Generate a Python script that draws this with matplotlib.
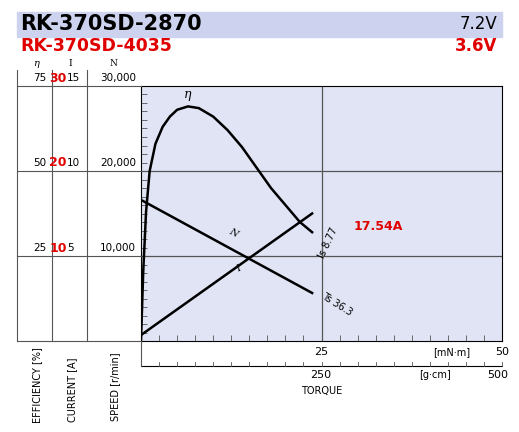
import matplotlib
matplotlib.use("Agg")
import matplotlib.pyplot as plt
import numpy as np

torque_eff = [0, 0.3, 0.7, 1.2, 2, 3, 4, 5, 6.5, 8, 10, 12, 14, 16, 18, 20, 22, 23.7]
eff = [0, 20, 38, 50, 58, 63, 66, 68, 69, 68.5, 66, 62, 57, 51, 45, 40, 35, 32]
torque_line = [0, 23.7]
speed = [16600, 5650]
current = [0.35, 7.5]
eff_ticks = [25, 50, 75]
cur_ticks = [5, 10, 15]
cur_ticks_red = ["10", "20", "30"]
speed_ticks = [10000, 20000, 30000]

W, H = 519, 432
fig = plt.figure(figsize=(W/100, H/100), dpi=100)
def fx(x): return x / W
def fy(y): return 1 - y / H

bg = "#e0e4f4"
fig.patches.append(plt.Rectangle((fx(17), fy(37)), fx(485), 25/H, color="#cdd3ee", transform=fig.transFigure, zorder=0))
fig.text(fx(20), fy(24), "RK-370SD-2870", fontsize=15, fontweight="bold", va="center")
fig.text(fx(497), fy(24), "7.2V", fontsize=12, va="center", ha="right")
fig.text(fx(20), fy(46), "RK-370SD-4035", fontsize=12.5, fontweight="bold", color="#e00000", va="center")
fig.text(fx(497), fy(46), "3.6V", fontsize=12, fontweight="bold", color="#e00000", va="center", ha="right")

ax = fig.add_axes([fx(141), fy(341), 361/W, 255/H])
ax.set_facecolor(bg)
ax.set_xlim(0, 50)
ax.set_ylim(0, 30000)
for s in ax.spines.values():
    s.set_linewidth(0.8)
ax.axvline(25, color="#555", lw=0.9)
for v in [10000, 20000]:
    ax.axhline(v, color="#555", lw=0.9)
ax.set_xticks(np.arange(0, 50.1, 2.5))
ax.set_xticklabels([])
ax.set_yticks(np.arange(0, 30001, 1000))
ax.set_yticklabels([])
ax.tick_params(direction="in", length=4, width=0.6, color="#555")

ax.plot(torque_line, speed, color="black", lw=1.8)
ax.plot(torque_line, [c / 15 * 30000 for c in current], color="black", lw=1.8)
ax.plot(torque_eff, [e / 75 * 30000 for e in eff], color="black", lw=1.8)

ax.text(6.0, 28600, "η", fontsize=9, family="DejaVu Serif", style="italic")
ax.text(12.0, 12300, "N", fontsize=7, family="DejaVu Serif", style="italic", rotation=-28)
ax.text(13.0, 8100, "I", fontsize=7, family="DejaVu Serif", style="italic", rotation=28)
ax.text(24.3, 11500, "Is 8.77", fontsize=7, rotation=65, ha="left", va="center")
ax.text(29.5, 13500, "17.54A", fontsize=9, fontweight="bold", color="#e00000", va="center")
ax.text(24.8, 4300, "Ts 36.3", fontsize=7, rotation=-32, ha="left", va="center")

ax.text(25, -1300, "25", fontsize=8, ha="center", va="center", clip_on=False)
ax.text(50, -1300, "50", fontsize=8, ha="center", va="center", clip_on=False)
ax.text(43, -1300, "[mN·m]", fontsize=7, ha="center", va="center", clip_on=False)

ax2 = fig.add_axes([fx(141), fy(366), 361/W, 0.0001])
ax2.set_xlim(0, 500)
for k in ["top", "right", "left"]:
    ax2.spines[k].set_visible(False)
ax2.spines["bottom"].set_linewidth(0.8)
ax2.set_yticks([])
ax2.set_xticks(np.arange(0, 501, 25))
ax2.set_xticklabels([])
ax2.tick_params(axis="x", top=False, bottom=False)
for t in np.arange(0, 501, 25):
    fig.add_artist(plt.Line2D([fx(141 + t / 500 * 361)] * 2, [fy(366), fy(362)], color="#555", lw=0.6))
fig.add_artist(plt.Line2D([fx(141)] * 2, [fy(341), fy(366)], color="#555", lw=0.8))
fig.text(fx(321), fy(375), "250", fontsize=8, ha="center", va="center")
fig.text(fx(498), fy(375), "500", fontsize=8, ha="center", va="center")
fig.text(fx(435), fy(375), "[g·cm]", fontsize=7, ha="center", va="center")
fig.text(fx(322), fy(391), "TORQUE", fontsize=7, ha="center", va="center")

lc = "#555"
for x in [17, 52, 87]:
    fig.add_artist(plt.Line2D([fx(x)] * 2, [fy(70), fy(341)], color=lc, lw=0.8))
for y in [86, 171, 256, 341]:
    fig.add_artist(plt.Line2D([fx(17), fx(141)], [fy(y)] * 2, color=lc, lw=0.8))
fig.text(fx(36), fy(63), "η", fontsize=7, family="DejaVu Serif", style="italic", ha="center", va="center")
fig.text(fx(70), fy(63), "I", fontsize=6.5, family="DejaVu Serif", ha="center", va="center")
fig.text(fx(113), fy(63), "N", fontsize=6.5, family="DejaVu Serif", ha="center", va="center")
for i, (e, c, r, n) in enumerate(zip(eff_ticks, cur_ticks, cur_ticks_red, speed_ticks)):
    y = 341 - 85 * (i + 1) - 8
    fig.text(fx(46), fy(y), str(e), fontsize=7.5, ha="right", va="center")
    fig.text(fx(67), fy(y), r, fontsize=9, fontweight="bold", color="#e00000", ha="right", va="center")
    fig.text(fx(67), fy(y), str(c), fontsize=7.5, ha="left", va="center")
    fig.text(fx(136), fy(y), f"{n:,}", fontsize=7.5, ha="right", va="center")
fig.text(fx(37), fy(385), "EFFICIENCY [%]", fontsize=7, rotation=90, ha="center", va="center")
fig.text(fx(72), fy(390), "CURRENT [A]", fontsize=7, rotation=90, ha="center", va="center")
fig.text(fx(115), fy(387), "SPEED [r/min]", fontsize=7, rotation=90, ha="center", va="center")

fig.savefig("out.png", dpi=100)
